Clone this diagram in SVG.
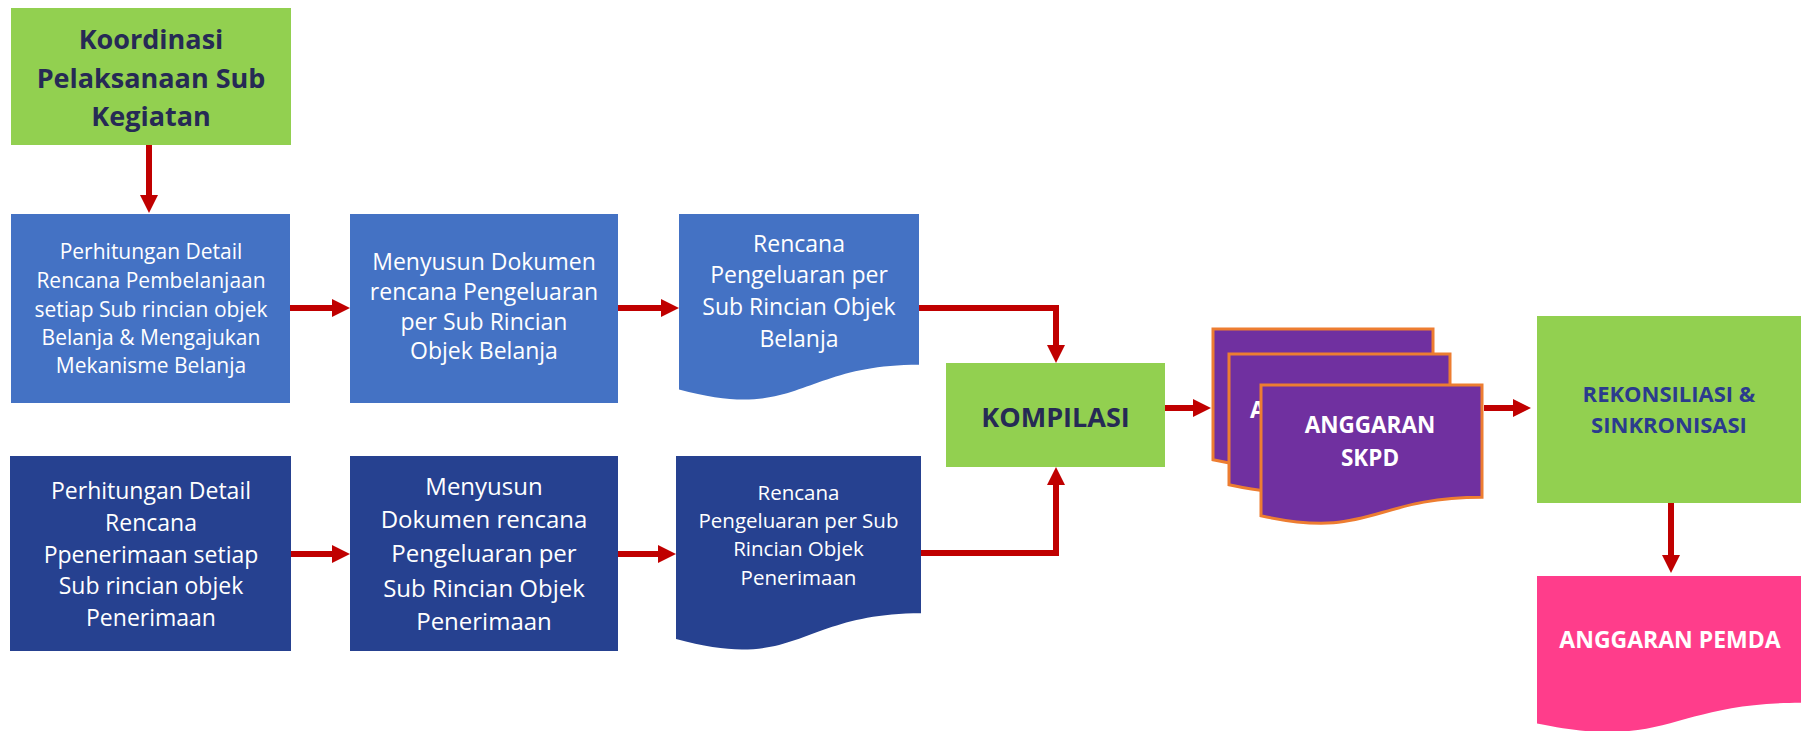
<svg xmlns="http://www.w3.org/2000/svg" width="1801" height="731" viewBox="0 0 1801 731">
<style>
text{font-family:"Open Sans","Noto Sans",sans-serif;text-anchor:middle}
.w{fill:#ffffff}
.nv{fill:#262a55;font-weight:bold}
.rk{fill:#2b3b8d;font-weight:bold}
.wb{fill:#ffffff;font-weight:bold}
.green{fill:#92d050}
.blue{fill:#4472c4}
.dblue{fill:#264190}
.purple{fill:#7030a0;stroke:#ed7d31;stroke-width:3}
.pink{fill:#ff3d8b}
.conn{fill:none;stroke:#c00000;stroke-width:6;marker-end:url(#ah)}
</style>
<defs>
<marker id="ah" markerUnits="userSpaceOnUse" viewBox="0 0 18 18" refX="1" refY="9" markerWidth="18" markerHeight="18" orient="auto">
<path d="M0,0 L18,9 L0,18 Z" fill="#c00000"/>
</marker>
</defs>
<rect width="1801" height="731" fill="#ffffff"/>

<g id="connectors">
<path class="conn" d="M149,145 V196"/>
<path class="conn" d="M290,308 H333"/>
<path class="conn" d="M618,308 H662"/>
<path class="conn" d="M919,308 H1056 V346"/>
<path class="conn" d="M291,554 H333"/>
<path class="conn" d="M618,554 H659"/>
<path class="conn" d="M921,553 H1056 V484"/>
<path class="conn" d="M1165,408 H1194"/>
<path class="conn" d="M1484,408 H1514"/>
<path class="conn" d="M1671,503 V556"/>
</g>

<g id="koordinasi">
<rect class="green" x="11" y="8" width="280" height="137"/>
<text class="nv" font-size="27"><tspan x="151" y="49">Koordinasi</tspan><tspan x="151" y="88">Pelaksanaan Sub</tspan><tspan x="151" y="126">Kegiatan</tspan></text>
</g>

<g id="perhitungan-belanja">
<rect class="blue" x="11" y="214" width="279" height="189"/>
<text class="w" font-size="21"><tspan x="151" y="259">Perhitungan Detail</tspan><tspan x="151" y="288">Rencana Pembelanjaan</tspan><tspan x="151" y="317">setiap Sub rincian objek</tspan><tspan x="151" y="345">Belanja &amp; Mengajukan</tspan><tspan x="151" y="373">Mekanisme Belanja</tspan></text>
</g>

<g id="menyusun-belanja">
<rect class="blue" x="350" y="214" width="268" height="189"/>
<text class="w" font-size="23"><tspan x="484" y="270">Menyusun Dokumen</tspan><tspan x="484" y="300">rencana Pengeluaran</tspan><tspan x="484" y="330">per Sub Rincian</tspan><tspan x="484" y="359">Objek Belanja</tspan></text>
</g>

<g id="rencana-belanja">
<path class="blue" d="M679,214 H919 V364.8 C799,364.8 799,422.2 679,389.6 Z"/>
<text class="w" font-size="23"><tspan x="799" y="252">Rencana</tspan><tspan x="799" y="283">Pengeluaran per</tspan><tspan x="799" y="315">Sub Rincian Objek</tspan><tspan x="799" y="347">Belanja</tspan></text>
</g>

<g id="perhitungan-penerimaan">
<rect class="dblue" x="10" y="456" width="281" height="195"/>
<text class="w" font-size="23"><tspan x="151" y="499">Perhitungan Detail</tspan><tspan x="151" y="531">Rencana</tspan><tspan x="151" y="563">Ppenerimaan setiap</tspan><tspan x="151" y="594">Sub rincian objek</tspan><tspan x="151" y="626">Penerimaan</tspan></text>
</g>

<g id="menyusun-penerimaan">
<rect class="dblue" x="350" y="456" width="268" height="195"/>
<text class="w" font-size="24"><tspan x="484" y="495">Menyusun</tspan><tspan x="484" y="528">Dokumen rencana</tspan><tspan x="484" y="562">Pengeluaran per</tspan><tspan x="484" y="597">Sub Rincian Objek</tspan><tspan x="484" y="630">Penerimaan</tspan></text>
</g>

<g id="rencana-penerimaan">
<path class="dblue" d="M676,456 H921 V613.2 C798.5,613.2 798.5,673.1 676,639.1 Z"/>
<text class="w" font-size="20.5"><tspan x="798.5" y="500">Rencana</tspan><tspan x="798.5" y="528">Pengeluaran per Sub</tspan><tspan x="798.5" y="556">Rincian Objek</tspan><tspan x="798.5" y="585">Penerimaan</tspan></text>
</g>

<g id="kompilasi">
<rect class="green" x="946" y="363" width="219" height="104"/>
<text class="nv" font-size="27" x="1055.5" y="427">KOMPILASI</text>
</g>

<g id="anggaran-skpd">
<path class="purple" d="M1213,329 H1433 V441.3 C1323,441.3 1323,484.05 1213,459.8 Z"/>
<path class="purple" d="M1229,354 H1450 V466.3 C1339.5,466.3 1339.5,509.05 1229,484.8 Z"/>
<text class="wb" font-size="22.5" x="1250" y="418" style="text-anchor:start">A</text>
<path class="purple" d="M1261,385 H1482 V497.3 C1371.5,497.3 1371.5,540.05 1261,515.8 Z"/>
<text class="wb" font-size="22.5"><tspan x="1370" y="433">ANGGARAN</tspan><tspan x="1370" y="466">SKPD</tspan></text>
</g>

<g id="rekonsiliasi">
<rect class="green" x="1537" y="316" width="264" height="187"/>
<text class="rk" font-size="22"><tspan x="1669" y="402">REKONSILIASI &amp;</tspan><tspan x="1669" y="433">SINKRONISASI</tspan></text>
</g>

<g id="anggaran-pemda">
<path class="pink" d="M1537,576 H1801 V702.7 C1669,702.7 1669,751 1537,723.6 Z"/>
<text class="wb" font-size="23" x="1670" y="648">ANGGARAN PEMDA</text>
</g>
</svg>
